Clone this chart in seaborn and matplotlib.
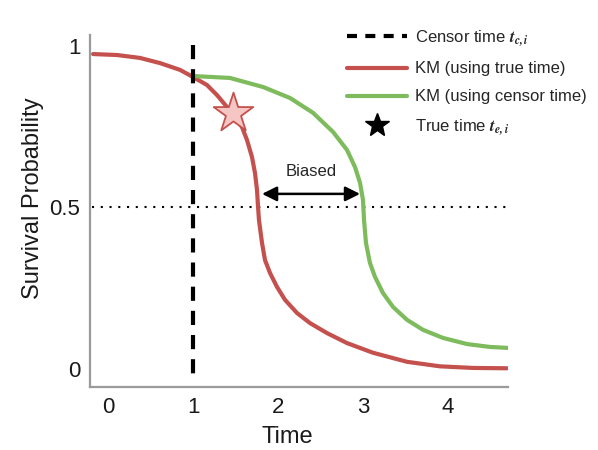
import numpy as np
import pandas as pd
import matplotlib
matplotlib.use("Agg")
import matplotlib.pyplot as plt
from matplotlib.lines import Line2D
import seaborn as sns

# ---- data ----
red_x = [-0.176, 0.106, 0.376, 0.612, 0.847, 1.0, 1.165, 1.282, 1.4, 1.494, 1.576,
         1.635, 1.694, 1.729, 1.753, 1.765, 1.776, 1.812, 1.847, 1.906, 1.988, 2.082,
         2.224, 2.376, 2.576, 2.812, 3.118, 3.518, 3.906, 4.294, 4.694]
red_y = [0.975, 0.972, 0.963, 0.947, 0.926, 0.904, 0.879, 0.848, 0.811, 0.780, 0.749,
         0.709, 0.656, 0.607, 0.554, 0.502, 0.461, 0.390, 0.337, 0.297, 0.254, 0.214,
         0.173, 0.142, 0.111, 0.080, 0.050, 0.022, 0.008, 0.003, 0.002]
green_x = [1.0, 1.435, 1.824, 2.141, 2.412, 2.647, 2.812, 2.906, 2.965, 3.0, 3.012,
           3.035, 3.082, 3.141, 3.235, 3.353, 3.518, 3.706, 3.941, 4.224, 4.494, 4.706]
green_y = [0.907, 0.901, 0.873, 0.839, 0.793, 0.734, 0.678, 0.625, 0.576, 0.523, 0.461,
           0.390, 0.328, 0.285, 0.235, 0.192, 0.152, 0.121, 0.096, 0.077, 0.068, 0.065]
censor_time = 1.0
true_time = [1.471]
true_surv = [0.793]
half = 0.5
bias_from, bias_to, bias_y = 1.812, 2.965, 0.542
x_ticks = [0, 1, 2, 3, 4]
y_ticks = [0, 0.5, 1]
y_tick_labels = ["0", "0.5", "1"]

RED = "#c4514d"
GREEN = "#7dbb5c"
GRAY = "#9a9a9a"

sns.set_theme(style="white")
plt.rcParams["font.family"] = ["Liberation Sans", "DejaVu Sans"]
plt.rcParams["mathtext.fontset"] = "stix"

fig = plt.figure(figsize=(5.98, 4.5), dpi=100)
ax = fig.add_axes([90 / 598, 1 - 387 / 450, 418 / 598, 352 / 450])

df_red = pd.DataFrame({"t": red_x, "s": red_y})
df_green = pd.DataFrame({"t": green_x, "s": green_y})
sns.lineplot(data=df_red, x="t", y="s", ax=ax, color=RED, lw=3, sort=False)
sns.lineplot(data=df_green, x="t", y="s", ax=ax, color=GREEN, lw=3, sort=False)

# censor line
ax.plot([censor_time, censor_time], [1.003, -0.043], color="black", lw=3,
        dashes=(3.4, 2.4), zorder=4)
# 0.5 dotted line
ax.plot([-0.19, 4.706], [half, half], color="black", lw=1.5,
        linestyle=(0, (1, 3.2)), zorder=1)

# star
sns.scatterplot(x=true_time, y=true_surv, ax=ax, marker="*", s=900,
                color="#f5c6c4", edgecolor=RED, linewidth=1.3, zorder=5)

# biased arrow
ax.annotate("", xy=(bias_from, bias_y), xytext=(bias_to, bias_y),
            arrowprops=dict(arrowstyle="<|-|>", color="black", lw=1.8,
                            mutation_scale=22, shrinkA=0, shrinkB=0))
ax.text((bias_from + bias_to) / 2, 0.612, "Biased", ha="center",
        va="center", fontsize=12)

ax.set_xlim(-0.212, 4.706)
ax.set_ylim(-0.056, 1.034)
ax.set_xticks(x_ticks)
ax.set_xticklabels([str(v) for v in x_ticks])
ax.set_yticks(y_ticks)
ax.set_yticklabels(y_tick_labels)
ax.tick_params(axis="both", length=0, labelsize=16, colors="#1a1a1a")
ax.tick_params(axis="x", pad=7)
ax.tick_params(axis="y", pad=7)

for side in ["top", "right"]:
    ax.spines[side].set_visible(False)
for side in ["left", "bottom"]:
    ax.spines[side].set_color(GRAY)
    ax.spines[side].set_linewidth(1.6)

ax.set_xlabel("Time", fontsize=17, va="center", color="#1a1a1a")
ax.xaxis.set_label_coords(0.471, -0.142)
ax.set_ylabel("Survival Probability", fontsize=17, va="center", color="#1a1a1a")
ax.yaxis.set_label_coords(-0.136, 0.537)

handles = [
    Line2D([], [], color="black", lw=3, dashes=(2.4, 2.0)),
    Line2D([], [], color=RED, lw=3),
    Line2D([], [], color=GREEN, lw=3),
    Line2D([], [], color="black", lw=0, marker="*", markersize=18),
]
labels = [r"Censor time $\mathbfit{t}_{\mathbfit{c,i}}$", "KM (using true time)",
          "KM (using censor time)", r"True time $\mathbfit{t}_{\mathbfit{e,i}}$"]
fig.legend(handles, labels, loc="upper left", bbox_to_anchor=(340 / 598, 1 - 22 / 450),
           frameon=False, fontsize=12, handlelength=3.6, handletextpad=0.5,
           labelspacing=0.78, borderaxespad=0)

fig.savefig("out.png", dpi=100)
